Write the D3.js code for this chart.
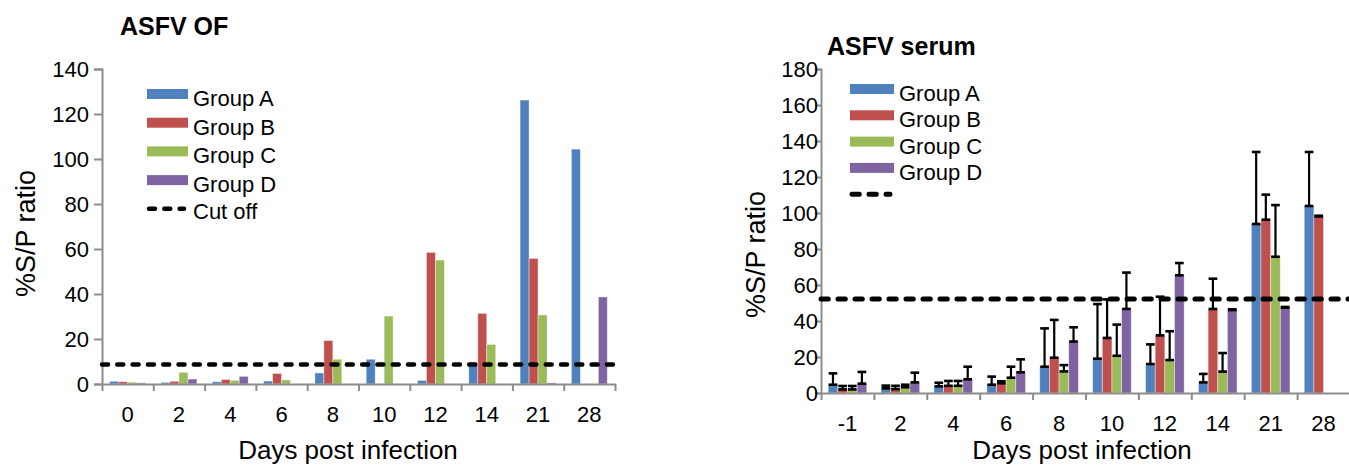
<!DOCTYPE html>
<html>
<head>
<meta charset="utf-8">
<script src="https://cdn.jsdelivr.net/npm/d3@7"></script>
<style>
  body { margin: 0; background: #fff; }
  text { font-family: "Liberation Sans", Arial, sans-serif; fill: #000; }
</style>
</head>
<body>
<script>
// ---- data ----
var groups = ["Group A", "Group B", "Group C", "Group D"];
var colors = ["#4f81bd", "#c0504d", "#9bbb59", "#8064a2"];

var ofDays = ["0", "2", "4", "6", "8", "10", "12", "14", "21", "28"];
var ofA = [1.2, 0.7, 1.0, 1.3, 4.9, 11.0, 1.6, 9.6, 126.2, 104.4];
var ofB = [1.0, 1.2, 2.0, 4.7, 19.3, 0, 58.5, 31.4, 55.8, 0];
var ofC = [0.8, 5.2, 1.6, 1.8, 11.0, 30.2, 55.1, 17.6, 30.7, 0];
var ofD = [0.5, 2.2, 3.4, 0, 0, 0, 0, 0, 0.5, 38.7];
var ofCutoff = 8.7;
var ofTicks = [0, 20, 40, 60, 80, 100, 120, 140];

var seDays = ["-1", "2", "4", "6", "8", "10", "12", "14", "21", "28"];
var seA = [4.6, 2.6, 3.7, 4.6, 14.6, 19.1, 16.1, 5.9, 93.9, 103.9];
var seB = [2.0, 2.2, 4.0, 5.4, 19.6, 30.6, 32.0, 46.7, 96.3, 98.1];
var seC = [2.0, 3.2, 4.0, 8.5, 12.0, 20.7, 18.3, 11.9, 75.7, 0];
var seD = [5.2, 5.9, 7.6, 11.5, 28.6, 46.7, 65.4, 46.1, 47.4, 0];
var seErrA = [6.3, 1.5, 2.0, 4.5, 21.3, 30.3, 10.9, 4.7, 40.0, 30.0];
var seErrB = [1.9, 1.8, 2.7, 1.1, 21.0, 21.4, 21.5, 16.8, 13.9, 0.4];
var seErrC = [1.9, 1.4, 2.7, 6.1, 3.5, 17.3, 16.0, 10.3, 28.7, 0];
var seErrD = [6.5, 5.4, 7.0, 7.2, 7.9, 20.2, 6.8, 0.4, 0.4, 0];
var seCutoff = 52.2;
var seTicks = [0, 20, 40, 60, 80, 100, 120, 140, 160, 180];

var svg = d3.select("body").append("svg")
    .attr("width", 1349)
    .attr("height", 467);

function drawChart(cfg) {
    var g = svg.append("g");

    var y = d3.scaleLinear().domain([0, cfg.max]).range([cfg.y0, cfg.y1]);
    var x = d3.scaleBand().domain(cfg.days)
        .range([cfg.x0, cfg.x1])
        .paddingInner(cfg.pad).paddingOuter(cfg.pad / 2);
    var xs = d3.scaleBand().domain(groups).range([0, x.bandwidth()]);

    // rows of bars
    var rows = [];
    cfg.series.forEach(function(s, gi) {
        s.forEach(function(v, i) {
            rows.push({day: cfg.days[i], grp: groups[gi], c: colors[gi], v: v,
                       e: cfg.errs ? cfg.errs[gi][i] : 0});
        });
    });

    g.selectAll("rect.bar").data(rows.filter(d => d.v > 0)).enter()
      .append("rect")
      .attr("class", "bar")
      .attr("x", d => x(d.day) + xs(d.grp))
      .attr("y", d => y(d.v))
      .attr("width", xs.bandwidth())
      .attr("height", d => y(0) - y(d.v))
      .attr("fill", d => d.c)
      .attr("stroke", "#ffffff")
      .attr("stroke-opacity", 0.5)
      .attr("stroke-width", 0.8);

    // error bars (upper only, capped at both ends)
    if (cfg.errs) {
        var eb = g.selectAll("g.err").data(rows.filter(d => d.v > 0)).enter()
          .append("g").attr("class", "err");
        var cx = d => x(d.day) + xs(d.grp) + xs.bandwidth() / 2;
        var cw = xs.bandwidth() * 0.45;
        eb.append("line")
          .attr("x1", cx).attr("x2", cx)
          .attr("y1", d => y(d.v)).attr("y2", d => y(d.v + d.e))
          .attr("stroke", "#000").attr("stroke-width", 2.2);
        eb.append("line")
          .attr("x1", d => cx(d) - cw).attr("x2", d => cx(d) + cw)
          .attr("y1", d => y(d.v + d.e)).attr("y2", d => y(d.v + d.e))
          .attr("stroke", "#000").attr("stroke-width", 2.6);
        eb.append("line")
          .attr("x1", d => cx(d) - cw).attr("x2", d => cx(d) + cw)
          .attr("y1", d => y(d.v)).attr("y2", d => y(d.v))
          .attr("stroke", "#000").attr("stroke-width", 2.6);
    }

    // y axis
    var yAxis = d3.axisLeft(y).tickValues(cfg.ticks).tickSize(cfg.ytick).tickPadding(cfg.ypad);
    var ya = g.append("g")
      .attr("transform", "translate(" + cfg.x0 + ",0)")
      .call(yAxis);
    ya.select(".domain").attr("stroke", "#8c8c8c").attr("stroke-width", 2);
    ya.selectAll(".tick line").attr("stroke", "#8c8c8c").attr("stroke-width", 2);
    ya.selectAll("text").style("font-size", "22px").attr("fill", "#000");

    // x axis: boundary ticks + centered labels
    var xb = d3.scaleLinear().domain([0, cfg.days.length]).range([cfg.x0, cfg.x1]);
    var xa = g.append("g")
      .attr("transform", "translate(0," + cfg.y0 + ")")
      .call(d3.axisBottom(xb).ticks(cfg.days.length).tickSize(7).tickSizeOuter(0).tickFormat(""));
    xa.select(".domain").attr("stroke", "#8c8c8c").attr("stroke-width", 2);
    xa.selectAll(".tick line").attr("stroke", "#8c8c8c").attr("stroke-width", 2);

    var xl = g.append("g")
      .attr("transform", "translate(0," + cfg.y0 + ")")
      .call(d3.axisBottom(x).tickSize(0).tickPadding(22));
    xl.select(".domain").remove();
    xl.selectAll("text").style("font-size", "22px").attr("fill", "#000");

    // cutoff line
    g.append("line")
      .attr("x1", cfg.x0).attr("x2", cfg.x1 + 2)
      .attr("y1", y(cfg.cutoff)).attr("y2", y(cfg.cutoff))
      .attr("stroke", "#000")
      .attr("stroke-width", cfg.dashW)
      .attr("stroke-linecap", "round")
      .attr("stroke-dasharray", cfg.dash);

    // title
    g.append("text")
      .attr("x", cfg.titleX).attr("y", cfg.titleY)
      .style("font-size", "25px").style("font-weight", "bold")
      .text(cfg.title);

    // axis titles
    g.append("text")
      .attr("transform", "translate(" + cfg.ylabX + "," + cfg.ylabY + ") rotate(-90)")
      .style("font-size", "27px")
      .text("%S/P ratio");
    g.append("text")
      .attr("x", cfg.xlabX).attr("y", 459)
      .attr("text-anchor", "middle")
      .style("font-size", "26px")
      .text("Days post infection");

    // legend
    var lg = g.append("g");
    groups.forEach(function(name, i) {
        var cy = cfg.legY + i * cfg.legStep;
        lg.append("rect")
          .attr("x", cfg.legX).attr("y", cy - 5)
          .attr("width", cfg.legW).attr("height", 10)
          .attr("fill", colors[i]);
        lg.append("text")
          .attr("x", cfg.legX + cfg.legW + 5).attr("y", cy + 12)
          .style("font-size", "22px")
          .text(name);
    });
    var dy = cfg.legY + 4 * cfg.legStep;
    lg.append("line")
      .attr("x1", cfg.legX + 2).attr("x2", cfg.legX + cfg.legW - 4)
      .attr("y1", dy).attr("y2", dy)
      .attr("stroke", "#000").attr("stroke-width", cfg.dashW)
      .attr("stroke-linecap", "round")
      .attr("stroke-dasharray", cfg.dash);
    if (cfg.cutLabel) {
        lg.append("text")
          .attr("x", cfg.legX + cfg.legW + 5).attr("y", dy + 10)
          .style("font-size", "22px")
          .text(cfg.cutLabel);
    }
}

drawChart({
    title: "ASFV OF", titleX: 120, titleY: 35,
    days: ofDays, series: [ofA, ofB, ofC, ofD], errs: null,
    max: 140, ticks: ofTicks, cutoff: ofCutoff,
    x0: 102, x1: 615, y0: 384, y1: 69, pad: 0.3,
    ytick: 8, ypad: 5,
    dash: "6,9.3", dashW: 4.5,
    ylabX: 35, ylabY: 297, xlabX: 348,
    legX: 147, legY: 94, legStep: 28.7, legW: 41, cutLabel: "Cut off"
});

drawChart({
    title: "ASFV serum", titleX: 827, titleY: 55,
    days: seDays, series: [seA, seB, seC, seD], errs: [seErrA, seErrB, seErrC, seErrD],
    max: 180, ticks: seTicks, cutoff: seCutoff,
    x0: 821, x1: 1350, y0: 393, y1: 69, pad: 0.27,
    ytick: 6, ypad: -3,
    dash: "7.3,9.7", dashW: 5,
    ylabX: 765, ylabY: 318, xlabX: 1082,
    legX: 850, legY: 89, legStep: 26.3, legW: 44, cutLabel: null
});
</script>
</body>
</html>
